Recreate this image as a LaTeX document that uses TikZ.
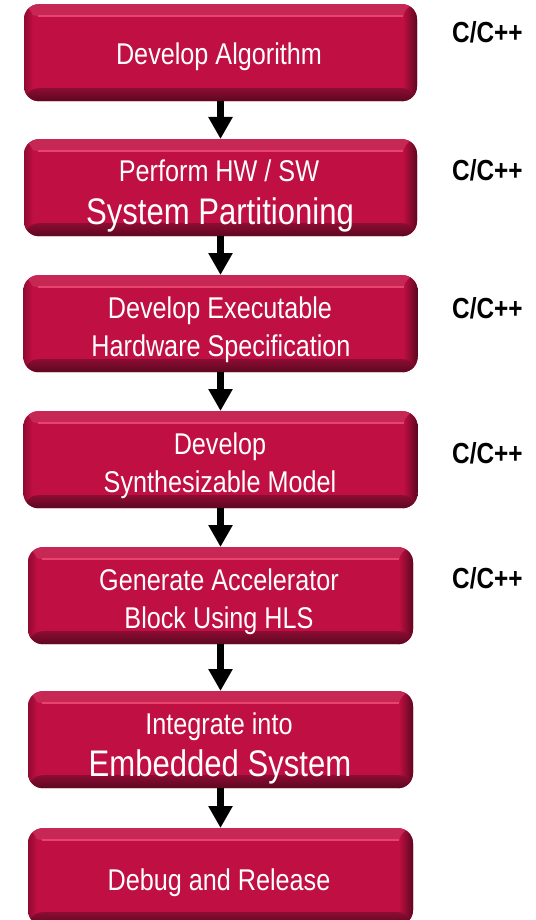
\documentclass[tikz,border=0pt]{standalone}
\usepackage{fontspec}
\setmainfont{Liberation Sans}
\newfontfamily\narrowfont[FakeStretch=0.84]{Liberation Sans}
\usetikzlibrary{arrows.meta}
\definecolor{face}{HTML}{C00F42}
\definecolor{bevdark}{HTML}{5C0720}
\definecolor{bevmid}{HTML}{8C0D33}
\definecolor{bevlight}{HTML}{E8436F}

\begin{document}
\begin{tikzpicture}[x=1pt,y=-1pt,
  stage/.style={rounded corners=15pt,fill=face,minimum height=97pt,inner sep=0pt,anchor=north,
    path picture={
      \fill[face!90!white] (path picture bounding box.north west) rectangle ([yshift=-12pt]path picture bounding box.north east);
      \shade[left color=face!75!black,right color=face] (path picture bounding box.south west) rectangle ([xshift=9pt]path picture bounding box.north west);
      \shade[left color=face,right color=bevdark] ([xshift=-14pt]path picture bounding box.south east) rectangle (path picture bounding box.north east);
      \shade[top color=bevmid,bottom color=bevdark] (path picture bounding box.south west) rectangle ([yshift=13pt]path picture bounding box.south east);
      \draw[bevlight,line width=2.5pt] ([xshift=14pt,yshift=-12pt]path picture bounding box.north west) -- ([xshift=-14pt,yshift=-12pt]path picture bounding box.north east);
    }},
  txt/.style={text=white,inner sep=0pt,anchor=base,font=\narrowfont\fontsize{30}{36}\selectfont},
  big/.style={txt,font=\narrowfont\fontsize{37}{44}\selectfont},
  lang/.style={inner sep=0pt,anchor=base west,font=\narrowfont\bfseries\fontsize{29}{34}\selectfont},
  flow/.style={line width=7pt,-{Triangle[width=23pt,length=22pt]}}]
  \fill[white] (0,0) rectangle (535,920);
  \useasboundingbox (0,0) rectangle (535,920);
  % process steps
  \foreach \i/\top/\w in {1/4/393,2/139/393,3/275/394,4/411/394,5/547/385,6/691/385,7/828/385}
    \node[stage,minimum width=\w pt] (s\i) at (220.5,\top) {};
  \foreach \i/\j in {1/2,2/3,3/4,4/5,5/6,6/7}
    \draw[flow] (s\i.south) -- (s\j.north);
  % step texts
  \node[txt] (a1) at (219,65) {Develop Algorithm};
  \node[txt] (a2) at (219,182) {Perform HW / SW};
  \node[big] (b2) at (220,224) {System Partitioning};
  \node[txt] (a3) at (220,318) {Develop Executable};
  \node[txt] (b3) at (221,356) {Hardware Specification};
  \node[txt] (a4) at (220,454) {Develop};
  \node[txt] (b4) at (220,492) {Synthesizable Model};
  \node[txt] (a5) at (219,590) {Generate Accelerator};
  \node[txt] (b5) at (219,628) {Block Using HLS};
  \node[txt] (a6) at (219,734) {Integrate into};
  \node[big] (b6) at (220,776) {Embedded System};
  \node[txt] (a7) at (219,890) {Debug and Release};
  % language column
  \foreach \k/\y in {1/43,2/180,3/318,4/463,5/588}
    \node[lang] (l\k) at (452,\y) {C/C++};
\end{tikzpicture}
\end{document}
